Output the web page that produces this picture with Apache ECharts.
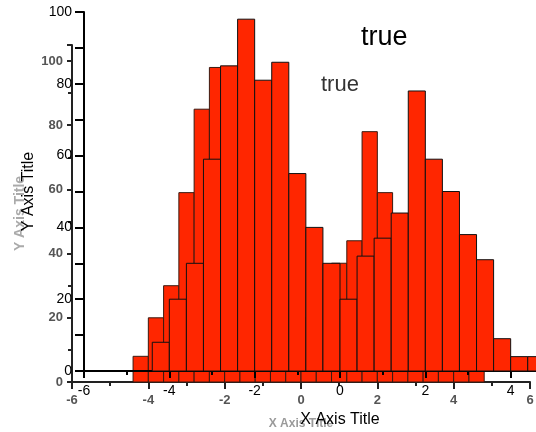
<!DOCTYPE html>
<html>
<head>
<meta charset="utf-8">
<script src="https://cdn.jsdelivr.net/npm/echarts@6/dist/echarts.min.js"></script>
<style>
  html, body { margin: 0; padding: 0; background: #fff; }
  #chart { width: 536px; height: 432px; }
</style>
</head>
<body>
<div id="chart"></div>
<script>
// histogram bins (width 0.4), same data drawn twice: a sharp plot and a faded copy behind it
const binStarts = [-4.4, -4.0, -3.6, -3.2, -2.8, -2.4, -2.0, -1.6, -1.2, -0.8, -0.4, 0.0,
                   0.4, 0.8, 1.2, 1.6, 2.0, 2.4, 2.8, 3.2, 3.6, 4.0, 4.4];
const binEnds = [-4.0, -3.6, -3.2, -2.8, -2.4, -2.0, -1.6, -1.2, -0.8, -0.4, 0.0, 0.4,
                 0.8, 1.2, 1.6, 2.0, 2.4, 2.8, 3.2, 3.6, 4.0, 4.4, 4.8];
const counts = [8, 20, 30, 59, 85, 98, 81, 86, 55, 40, 30, 20,
                32, 37, 44, 78, 59, 50, 38, 31, 9, 4, 4];

const xTitle = 'X Axis Title';
const yTitle = 'Y Axis Title';
const plotTitle = 'true';

const binData = binStarts.map((s, i) => [s, binEnds[i], counts[i]]);

function renderBin(params, api) {
    const top = api.coord([api.value(0), api.value(2)]);
    const base = api.coord([api.value(1), 0]);
    return {
        type: 'rect',
        shape: { x: top[0], y: top[1], width: base[0] - top[0], height: base[1] - top[1] },
        style: api.style({ fill: '#ff2600', stroke: params.seriesIndex === 0 ? '#3a1a10' : '#111', lineWidth: 1 })
    };
}

function xAxisOpt(grid, sharp) {
    return {
        type: 'value', gridIndex: grid, min: -6, max: 6, interval: 2,
        z: sharp ? 3 : 1,
        name: xTitle, nameLocation: 'middle', nameGap: sharp ? 41 : 36,
        nameTextStyle: sharp
            ? { color: '#000', fontSize: 16, fontFamily: 'Liberation Sans' }
            : { color: '#9a9a9a', fontSize: 12, fontFamily: 'Liberation Sans', fontWeight: 'bold' },
        axisLine: { onZero: false, lineStyle: { color: sharp ? '#000' : '#222', width: 2 } },
        axisTick: { inside: false, length: 7, lineStyle: { color: sharp ? '#000' : '#222', width: 2 } },
        minorTick: { show: true, splitNumber: 2, length: 4, lineStyle: { color: sharp ? '#000' : '#222', width: 2 } },
        splitLine: { show: false },
        axisLabel: sharp
            ? { margin: 13, color: '#000', fontSize: 14, fontFamily: 'Liberation Sans' }
            : { margin: 12, color: '#555', fontSize: 13, fontFamily: 'Liberation Sans', fontWeight: 'bold' }
    };
}

function yAxisOpt(grid, sharp) {
    return {
        type: 'value', gridIndex: grid, min: 0, max: sharp ? 100 : 105, interval: 20,
        z: sharp ? 3 : 1,
        name: yTitle, nameLocation: 'middle', nameGap: sharp ? 47 : 45,
        nameTextStyle: sharp
            ? { color: '#000', fontSize: 16, fontFamily: 'Liberation Sans' }
            : { color: '#aaa', fontSize: 14, fontFamily: 'Liberation Sans', fontWeight: 'bold' },
        axisLine: { show: true, onZero: false, lineStyle: { color: sharp ? '#000' : '#222', width: 2 } },
        axisTick: { show: true, length: sharp ? 9 : 5, lineStyle: { color: sharp ? '#000' : '#222', width: 2 } },
        minorTick: { show: true, splitNumber: 2, length: sharp ? 9 : 4, lineStyle: { color: sharp ? '#000' : '#222', width: 2 } },
        splitLine: { show: false },
        axisLabel: sharp
            ? { margin: 12, color: '#000', fontSize: 14, fontFamily: 'Liberation Sans' }
            : { margin: 9, color: '#555', fontSize: 13, fontFamily: 'Liberation Sans', fontWeight: 'bold', showMaxLabel: false }
    };
}

const chart = echarts.init(document.getElementById('chart'), null, { renderer: 'canvas' });

chart.setOption({
    animation: false,
    backgroundColor: '#fff',
    title: [
        { text: plotTitle, left: 316, top: 69,
          textStyle: { color: '#333', fontSize: 22, fontWeight: 'normal', fontFamily: 'Liberation Sans' } },
        { text: plotTitle, left: 356, top: 19,
          textStyle: { color: '#000', fontSize: 27, fontWeight: 'normal', fontFamily: 'Liberation Sans' } }
    ],
    grid: [
        { left: 72, top: 45, width: 458, height: 337, outerBoundsMode: 'none' },   // faded copy
        { left: 84, top: 12, width: 512, height: 359, outerBoundsMode: 'none' }    // sharp plot
    ],
    xAxis: [xAxisOpt(0, false), xAxisOpt(1, true)],
    yAxis: [yAxisOpt(0, false), yAxisOpt(1, true)],
    series: [
        { type: 'custom', xAxisIndex: 0, yAxisIndex: 0, z: 2, renderItem: renderBin,
          encode: { x: [0, 1], y: 2 }, data: binData },
        { type: 'custom', xAxisIndex: 1, yAxisIndex: 1, z: 4, renderItem: renderBin,
          encode: { x: [0, 1], y: 2 }, data: binData }
    ]
});

window.addEventListener('resize', () => chart.resize());
</script>
</body>
</html>
